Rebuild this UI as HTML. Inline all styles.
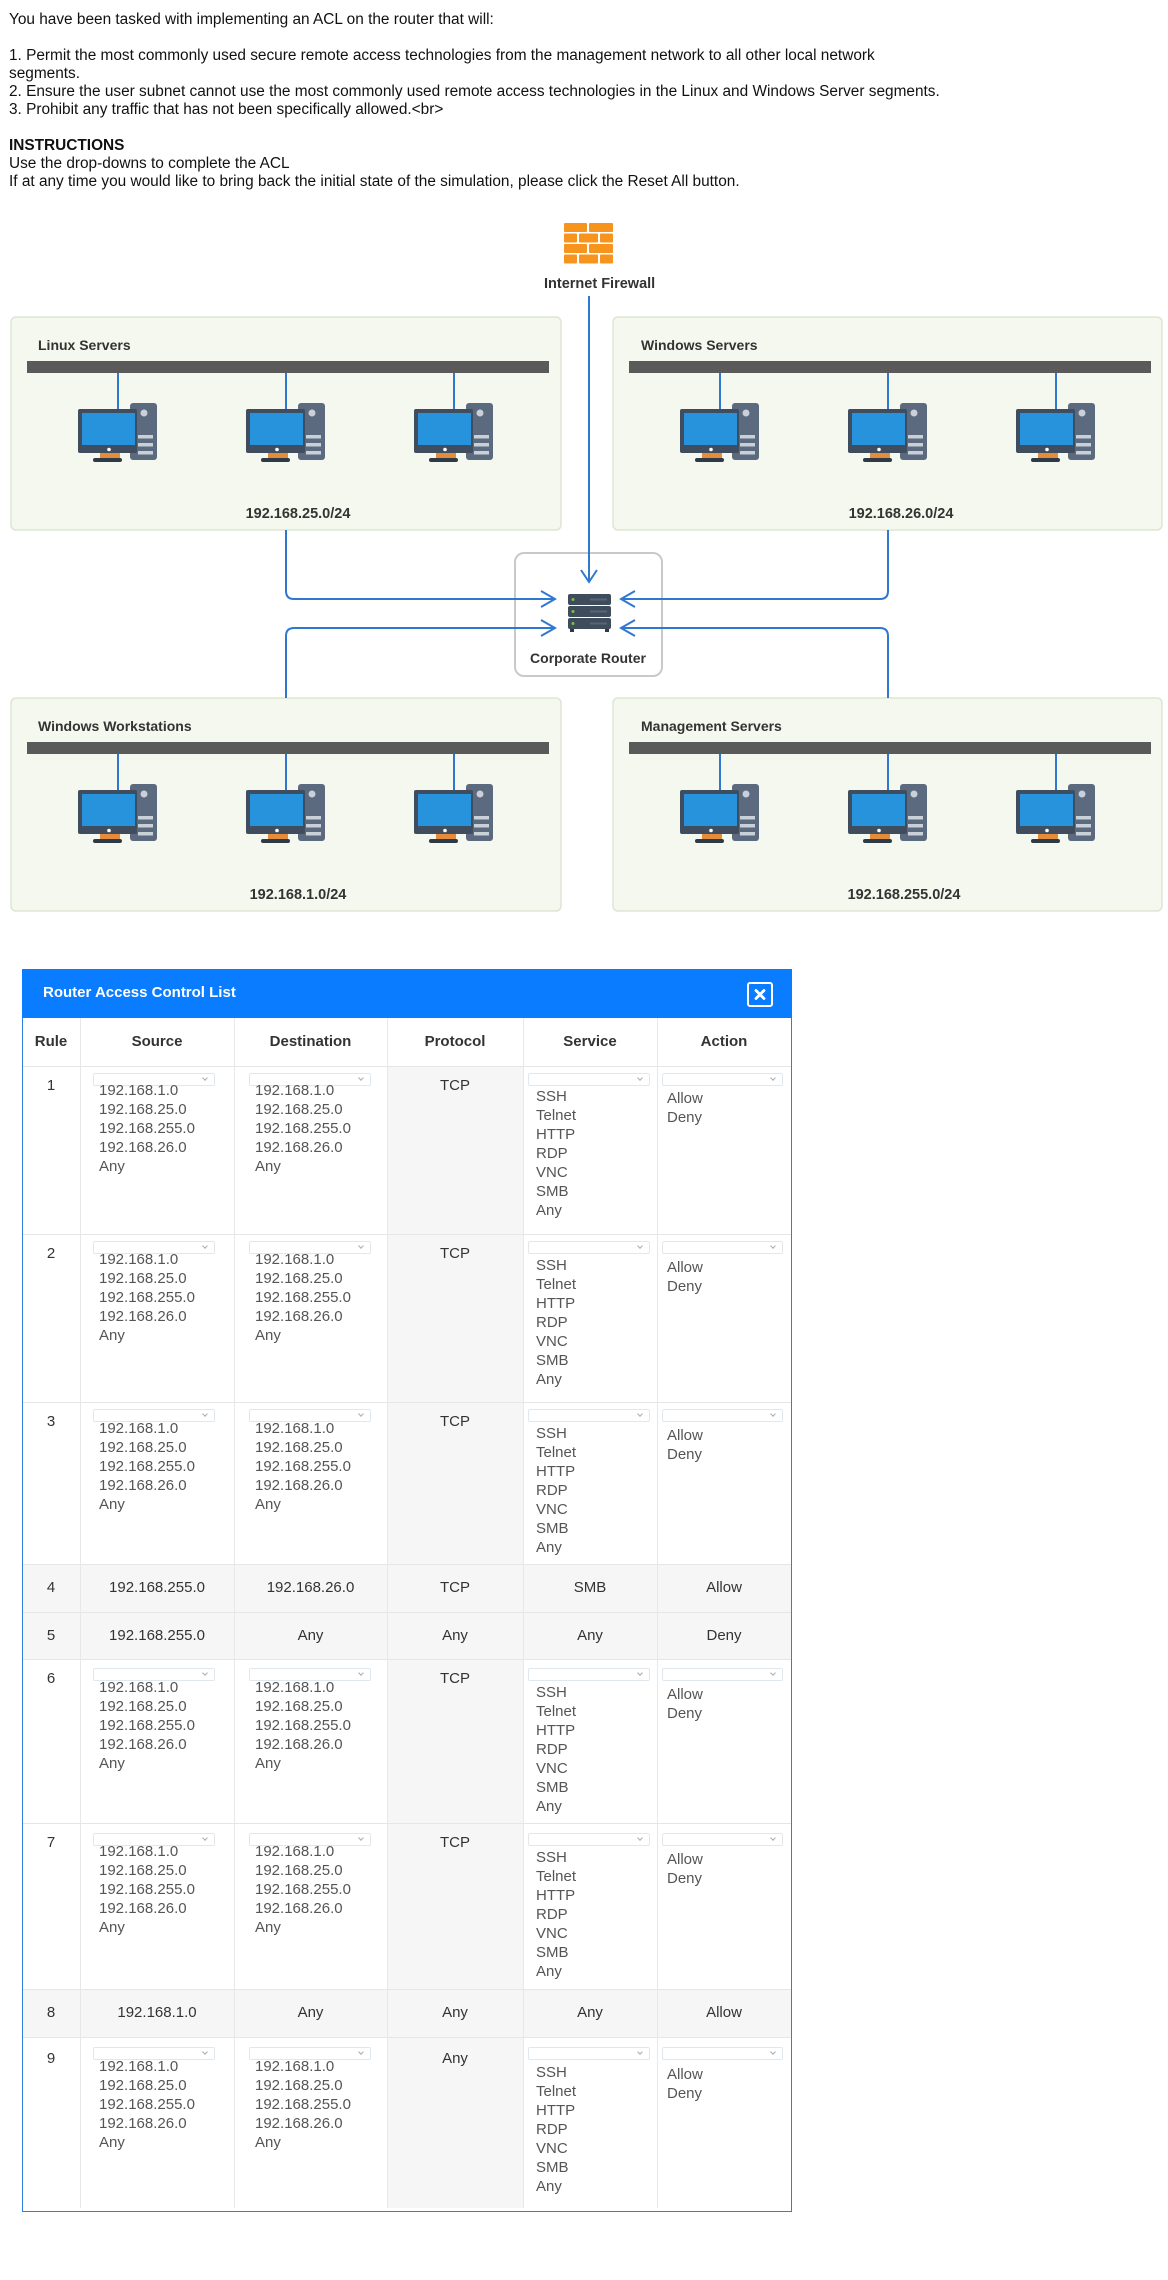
<!DOCTYPE html>
<html><head><meta charset="utf-8">
<style>
body{margin:0;background:#fff;}
#pg{position:relative;width:1168px;height:2280px;overflow:hidden;font-family:"Liberation Sans",Arial,sans-serif;background:#fff;}
.intro{position:absolute;left:9px;top:11px;font-size:15.4px;line-height:18px;color:#111;white-space:nowrap;}
svg text{font-family:"Liberation Sans",Arial,sans-serif;}
.panel{position:absolute;left:22px;top:969px;width:770px;height:1243px;border:1px solid #2d7fe0;box-sizing:border-box;}
.phead{position:absolute;left:22px;top:969px;width:770px;height:49px;background:#0a7cff;}
.ptitle{position:absolute;left:43px;top:983px;font-size:15px;line-height:20px;font-weight:bold;color:#fff;}
.xbtn{position:absolute;left:747px;top:982px;width:26px;height:25px;border:2px solid #fff;border-radius:3px;box-sizing:border-box;}
.hd{position:absolute;top:1032px;line-height:20px;font-size:15px;font-weight:bold;color:#333;text-align:center;}
.vl{position:absolute;top:1018px;width:1px;height:1190px;background:#e8e8e8;}
.hl{position:absolute;left:23px;width:768px;height:1px;background:#e6e6e6;}
.r{position:absolute;left:0;width:0;height:0;}
.r > *{position:absolute;}
.num{left:22px;width:58px;text-align:center;top:10px;line-height:20px;font-size:15px;color:#333;}
.sel{top:7px;height:13px;width:122px;border:1px solid #e0e8ee;box-sizing:border-box;border-radius:2px;background:#fff;}
.sel::after{content:"";position:absolute;right:7px;top:2px;width:3px;height:3px;border-right:1px solid #aaa;border-bottom:1px solid #aaa;transform:rotate(45deg);}
.lst{font-size:15px;line-height:19px;color:#555;white-space:nowrap;}
.pc{left:388px;width:135px;top:0;background:#f6f6f6;}
.proto{left:387px;width:136px;text-align:center;top:10px;line-height:20px;font-size:15px;color:#333;}
.gr{left:23px;width:768px;top:0;background:#f6f6f6;}
.gc{top:0;text-align:center;font-size:15px;color:#333;}
</style></head>
<body><div id="pg">

<div class="intro">You have been tasked with implementing an ACL on the router that will:<br><br>1. Permit the most commonly used secure remote access technologies from the management network to all other local network<br>segments.<br>2. Ensure the user subnet cannot use the most commonly used remote access technologies in the Linux and Windows Server segments.<br>3. Prohibit any traffic that has not been specifically allowed.&lt;br&gt;<br><br><b>INSTRUCTIONS</b><br>Use the drop-downs to complete the ACL<br>If at any time you would like to bring back the initial state of the simulation, please click the Reset All button.</div>

<svg style="position:absolute;left:0;top:0" width="1168" height="940" viewBox="0 0 1168 940">
<defs>
<symbol id="pc" overflow="visible">
<line x1="0" y1="0" x2="0" y2="36" stroke="#2f78d0" stroke-width="2"/>
<rect x="12" y="30" width="27" height="57" rx="3" fill="#5b6a7e"/>
<circle cx="26" cy="40" r="3.5" fill="#c9d0d8"/>
<rect x="20" y="62" width="15" height="3.5" fill="#c9d0d8"/>
<rect x="20" y="70" width="15" height="3.5" fill="#c9d0d8"/>
<rect x="20" y="78" width="15" height="3.5" fill="#c9d0d8"/>
<rect x="-40" y="36" width="59" height="44" rx="2" fill="#3f4d5e"/>
<rect x="-36" y="40" width="53" height="32" fill="#2793dc"/>
<circle cx="-9" cy="76.5" r="1.8" fill="#fff"/>
<rect x="-18" y="80" width="20" height="5" fill="#e38c3a"/>
<rect x="-25" y="85" width="29" height="4" rx="2" fill="#2e3a48"/>
</symbol>
</defs>

<g fill="#f7941d">
<rect x="564" y="223" width="23" height="9" rx="1"/><rect x="589" y="223" width="24" height="9" rx="1"/>
<rect x="564" y="233.5" width="13" height="9" rx="1"/><rect x="579" y="233.5" width="19" height="9" rx="1"/><rect x="600" y="233.5" width="13" height="9" rx="1"/>
<rect x="564" y="244" width="23" height="9" rx="1"/><rect x="589" y="244" width="24" height="9" rx="1"/>
<rect x="564" y="254.5" width="13" height="9" rx="1"/><rect x="579" y="254.5" width="19" height="9" rx="1"/><rect x="600" y="254.5" width="13" height="9" rx="1"/>
</g>
<text x="544" y="288" font-size="14.5" font-weight="bold" fill="#333">Internet Firewall</text>

<rect x="11" y="317" width="550" height="213" rx="5" fill="#f4f8ee" stroke="#dde5d3" stroke-width="1.5"/>
<rect x="613" y="317" width="549" height="213" rx="5" fill="#f4f8ee" stroke="#dde5d3" stroke-width="1.5"/>
<rect x="11" y="698" width="550" height="213" rx="5" fill="#f4f8ee" stroke="#dde5d3" stroke-width="1.5"/>
<rect x="613" y="698" width="549" height="213" rx="5" fill="#f4f8ee" stroke="#dde5d3" stroke-width="1.5"/>

<text x="38" y="350" font-size="14" font-weight="bold" fill="#333">Linux Servers</text>
<text x="641" y="350" font-size="14" font-weight="bold" fill="#333">Windows Servers</text>
<text x="38" y="731" font-size="14" font-weight="bold" fill="#333">Windows Workstations</text>
<text x="641" y="731" font-size="14" font-weight="bold" fill="#333">Management Servers</text>

<rect x="27" y="361" width="522" height="12" fill="#5a5a5a"/>
<rect x="629" y="361" width="522" height="12" fill="#5a5a5a"/>
<rect x="27" y="742" width="522" height="12" fill="#5a5a5a"/>
<rect x="629" y="742" width="522" height="12" fill="#5a5a5a"/>

<use href="#pc" x="118" y="373"/><use href="#pc" x="286" y="373"/><use href="#pc" x="454" y="373"/>
<use href="#pc" x="720" y="373"/><use href="#pc" x="888" y="373"/><use href="#pc" x="1056" y="373"/>
<use href="#pc" x="118" y="754"/><use href="#pc" x="286" y="754"/><use href="#pc" x="454" y="754"/>
<use href="#pc" x="720" y="754"/><use href="#pc" x="888" y="754"/><use href="#pc" x="1056" y="754"/>

<text x="298" y="518" font-size="14.5" font-weight="bold" fill="#333" text-anchor="middle">192.168.25.0/24</text>
<text x="901" y="518" font-size="14.5" font-weight="bold" fill="#333" text-anchor="middle">192.168.26.0/24</text>
<text x="298" y="899" font-size="14.5" font-weight="bold" fill="#333" text-anchor="middle">192.168.1.0/24</text>
<text x="904" y="899" font-size="14.5" font-weight="bold" fill="#333" text-anchor="middle">192.168.255.0/24</text>

<rect x="515" y="553" width="147" height="123" rx="9" fill="#fff" stroke="#c9c9c9" stroke-width="2"/>
<g>
<rect x="568" y="594" width="43" height="11" rx="2" fill="#3f4c5c"/>
<rect x="568" y="606" width="43" height="11" rx="2" fill="#3f4c5c"/>
<rect x="568" y="618" width="43" height="11" rx="2" fill="#3f4c5c"/>
<circle cx="573" cy="599.5" r="1.5" fill="#7ac143"/><circle cx="573" cy="611.5" r="1.5" fill="#7ac143"/><circle cx="573" cy="623.5" r="1.5" fill="#7ac143"/>
<rect x="590" y="598.5" width="17" height="2" fill="#566678"/><rect x="590" y="610.5" width="17" height="2" fill="#566678"/><rect x="590" y="622.5" width="17" height="2" fill="#566678"/>
<rect x="570" y="629" width="4" height="3" fill="#2e3a48"/><rect x="605" y="629" width="4" height="3" fill="#2e3a48"/>
</g>
<text x="588" y="663" font-size="14" font-weight="bold" fill="#333" text-anchor="middle">Corporate Router</text>

<g fill="none" stroke="#2f78d0" stroke-width="2">
<path d="M589,296 V582"/><path d="M581,570 L589,582 L597,570"/>
<path d="M286,530 V591 Q286,599 294,599 H555"/><path d="M541,591 L555,599 L541,607"/>
<path d="M888,530 V591 Q888,599 880,599 H621"/><path d="M635,591 L621,599 L635,607"/>
<path d="M555,628 H294 Q286,628 286,636 V698"/><path d="M541,620 L555,628 L541,636"/>
<path d="M621,628 H880 Q888,628 888,636 V698"/><path d="M635,620 L621,628 L635,636"/>
</g>
</svg>

<div class="panel"></div>
<div class="phead"></div>
<div class="ptitle">Router Access Control List</div>
<div class="xbtn"><svg width="22" height="21" style="position:absolute;left:0;top:0"><path d="M7,6.5 L15,14.5 M15,6.5 L7,14.5" stroke="#fff" stroke-width="2.8" stroke-linecap="round"/></svg></div>

<div class="r" style="top:1066px"><div class="pc" style="height:168px"></div></div>
<div class="r" style="top:1234px"><div class="pc" style="height:168px"></div></div>
<div class="r" style="top:1402px"><div class="pc" style="height:162px"></div></div>
<div class="r" style="top:1564px"><div class="gr" style="height:48px"></div></div>
<div class="r" style="top:1612px"><div class="gr" style="height:47px"></div></div>
<div class="r" style="top:1659px"><div class="pc" style="height:164px"></div></div>
<div class="r" style="top:1823px"><div class="pc" style="height:166px"></div></div>
<div class="r" style="top:1989px"><div class="gr" style="height:48px"></div></div>
<div class="r" style="top:2037px"><div class="pc" style="height:171px"></div></div>

<div class="vl" style="left:80px"></div>
<div class="vl" style="left:234px"></div>
<div class="vl" style="left:387px"></div>
<div class="vl" style="left:523px"></div>
<div class="vl" style="left:657px"></div>
<div class="hl" style="top:1066px"></div>
<div class="hl" style="top:1234px"></div>
<div class="hl" style="top:1402px"></div>
<div class="hl" style="top:1564px"></div>
<div class="hl" style="top:1612px"></div>
<div class="hl" style="top:1659px"></div>
<div class="hl" style="top:1823px"></div>
<div class="hl" style="top:1989px"></div>
<div class="hl" style="top:2037px"></div>

<div class="hd" style="left:22px;width:58px">Rule</div>
<div class="hd" style="left:80px;width:154px">Source</div>
<div class="hd" style="left:234px;width:153px">Destination</div>
<div class="hd" style="left:387px;width:136px">Protocol</div>
<div class="hd" style="left:523px;width:134px">Service</div>
<div class="hd" style="left:657px;width:134px">Action</div>

<div class="r" style="top:1066px">
<div class="num">1</div>
<div class="sel" style="left:93px"></div><div class="lst" style="left:99px;top:15px">192.168.1.0<br>192.168.25.0<br>192.168.255.0<br>192.168.26.0<br>Any</div>
<div class="sel" style="left:249px"></div><div class="lst" style="left:255px;top:15px">192.168.1.0<br>192.168.25.0<br>192.168.255.0<br>192.168.26.0<br>Any</div>
<div class="proto">TCP</div>
<div class="sel" style="left:528px"></div><div class="lst" style="left:536px;top:21px">SSH<br>Telnet<br>HTTP<br>RDP<br>VNC<br>SMB<br>Any</div>
<div class="sel" style="left:662px;width:121px"></div><div class="lst" style="left:667px;top:23px">Allow<br>Deny</div>
</div>

<div class="r" style="top:1234px">
<div class="num">2</div>
<div class="sel" style="left:93px"></div><div class="lst" style="left:99px;top:16px">192.168.1.0<br>192.168.25.0<br>192.168.255.0<br>192.168.26.0<br>Any</div>
<div class="sel" style="left:249px"></div><div class="lst" style="left:255px;top:16px">192.168.1.0<br>192.168.25.0<br>192.168.255.0<br>192.168.26.0<br>Any</div>
<div class="proto">TCP</div>
<div class="sel" style="left:528px"></div><div class="lst" style="left:536px;top:22px">SSH<br>Telnet<br>HTTP<br>RDP<br>VNC<br>SMB<br>Any</div>
<div class="sel" style="left:662px;width:121px"></div><div class="lst" style="left:667px;top:24px">Allow<br>Deny</div>
</div>

<div class="r" style="top:1402px">
<div class="num">3</div>
<div class="sel" style="left:93px"></div><div class="lst" style="left:99px;top:17px">192.168.1.0<br>192.168.25.0<br>192.168.255.0<br>192.168.26.0<br>Any</div>
<div class="sel" style="left:249px"></div><div class="lst" style="left:255px;top:17px">192.168.1.0<br>192.168.25.0<br>192.168.255.0<br>192.168.26.0<br>Any</div>
<div class="proto">TCP</div>
<div class="sel" style="left:528px"></div><div class="lst" style="left:536px;top:22px">SSH<br>Telnet<br>HTTP<br>RDP<br>VNC<br>SMB<br>Any</div>
<div class="sel" style="left:662px;width:121px"></div><div class="lst" style="left:667px;top:24px">Allow<br>Deny</div>
</div>

<div class="r" style="top:1564px">
<div class="gc" style="left:22px;width:58px;line-height:48px">4</div>
<div class="gc" style="left:80px;width:154px;line-height:48px">192.168.255.0</div>
<div class="gc" style="left:234px;width:153px;line-height:48px">192.168.26.0</div>
<div class="gc" style="left:387px;width:136px;line-height:48px">TCP</div>
<div class="gc" style="left:523px;width:134px;line-height:48px">SMB</div>
<div class="gc" style="left:657px;width:134px;line-height:48px">Allow</div>
</div>

<div class="r" style="top:1612px">
<div class="gc" style="left:22px;width:58px;line-height:47px">5</div>
<div class="gc" style="left:80px;width:154px;line-height:47px">192.168.255.0</div>
<div class="gc" style="left:234px;width:153px;line-height:47px">Any</div>
<div class="gc" style="left:387px;width:136px;line-height:47px">Any</div>
<div class="gc" style="left:523px;width:134px;line-height:47px">Any</div>
<div class="gc" style="left:657px;width:134px;line-height:47px">Deny</div>
</div>

<div class="r" style="top:1659px">
<div class="num">6</div>
<div class="sel" style="left:93px;top:9px"></div><div class="lst" style="left:99px;top:19px">192.168.1.0<br>192.168.25.0<br>192.168.255.0<br>192.168.26.0<br>Any</div>
<div class="sel" style="left:249px;top:9px"></div><div class="lst" style="left:255px;top:19px">192.168.1.0<br>192.168.25.0<br>192.168.255.0<br>192.168.26.0<br>Any</div>
<div class="proto">TCP</div>
<div class="sel" style="left:528px;top:9px"></div><div class="lst" style="left:536px;top:24px">SSH<br>Telnet<br>HTTP<br>RDP<br>VNC<br>SMB<br>Any</div>
<div class="sel" style="left:662px;width:121px;top:9px"></div><div class="lst" style="left:667px;top:26px">Allow<br>Deny</div>
</div>

<div class="r" style="top:1823px">
<div class="num">7</div>
<div class="sel" style="left:93px;top:10px"></div><div class="lst" style="left:99px;top:19px">192.168.1.0<br>192.168.25.0<br>192.168.255.0<br>192.168.26.0<br>Any</div>
<div class="sel" style="left:249px;top:10px"></div><div class="lst" style="left:255px;top:19px">192.168.1.0<br>192.168.25.0<br>192.168.255.0<br>192.168.26.0<br>Any</div>
<div class="proto">TCP</div>
<div class="sel" style="left:528px;top:10px"></div><div class="lst" style="left:536px;top:25px">SSH<br>Telnet<br>HTTP<br>RDP<br>VNC<br>SMB<br>Any</div>
<div class="sel" style="left:662px;width:121px;top:10px"></div><div class="lst" style="left:667px;top:27px">Allow<br>Deny</div>
</div>

<div class="r" style="top:1989px">
<div class="gc" style="left:22px;width:58px;line-height:48px">8</div>
<div class="gc" style="left:80px;width:154px;line-height:48px">192.168.1.0</div>
<div class="gc" style="left:234px;width:153px;line-height:48px">Any</div>
<div class="gc" style="left:387px;width:136px;line-height:48px">Any</div>
<div class="gc" style="left:523px;width:134px;line-height:48px">Any</div>
<div class="gc" style="left:657px;width:134px;line-height:48px">Allow</div>
</div>

<div class="r" style="top:2037px">
<div class="num" style="top:12px">9</div>
<div class="sel" style="left:93px;top:10px"></div><div class="lst" style="left:99px;top:20px">192.168.1.0<br>192.168.25.0<br>192.168.255.0<br>192.168.26.0<br>Any</div>
<div class="sel" style="left:249px;top:10px"></div><div class="lst" style="left:255px;top:20px">192.168.1.0<br>192.168.25.0<br>192.168.255.0<br>192.168.26.0<br>Any</div>
<div class="proto" style="top:12px">Any</div>
<div class="sel" style="left:528px;top:10px"></div><div class="lst" style="left:536px;top:26px">SSH<br>Telnet<br>HTTP<br>RDP<br>VNC<br>SMB<br>Any</div>
<div class="sel" style="left:662px;width:121px;top:10px"></div><div class="lst" style="left:667px;top:28px">Allow<br>Deny</div>
</div>

</div></body></html>
